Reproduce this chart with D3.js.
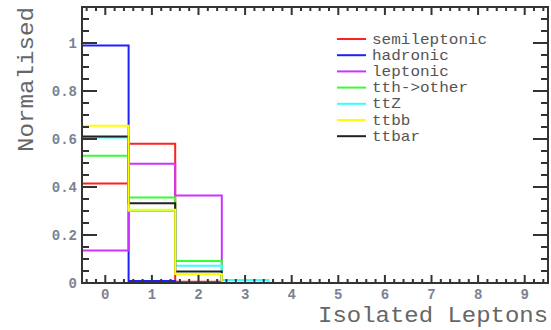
<!DOCTYPE html>
<html>
<head>
<meta charset="utf-8">
<script src="https://cdn.jsdelivr.net/npm/d3@7"></script>
<style>
  body { margin: 0; background: #fff; }
  svg { display: block; }
  text { font-family: "Liberation Mono", "DejaVu Sans Mono", monospace; }
</style>
</head>
<body>
<svg id="chart" width="551" height="330"></svg>
<script>
// bin centres (number of isolated leptons)
var bins = [0, 1, 2, 3, 4, 5, 6, 7, 8, 9];

// normalised content per bin
var semileptonic = [0.415, 0.58, 0.005, 0, 0, 0, 0, 0, 0, 0];
var hadronic     = [0.99, 0.008, 0, 0, 0, 0, 0, 0, 0, 0];
var leptonic     = [0.135, 0.497, 0.365, 0, 0, 0, 0, 0, 0, 0];
var tthOther     = [0.53, 0.356, 0.092, 0, 0, 0, 0, 0, 0, 0];
var ttZ          = [0.606, 0.30, 0.072, 0.012, 0, 0, 0, 0, 0, 0];
var ttbb         = [0.655, 0.305, 0.037, 0, 0, 0, 0, 0, 0, 0];
var ttbar        = [0.61, 0.332, 0.048, 0, 0, 0, 0, 0, 0, 0];

var seriesNames  = ["semileptonic", "hadronic", "leptonic", "tth->other", "ttZ", "ttbb", "ttbar"];
var seriesValues = [semileptonic, hadronic, leptonic, tthOther, ttZ, ttbb, ttbar];
var seriesColors = ["#ff2020", "#2020ff", "#cc33ff", "#33ff33", "#33ffff", "#ffff00", "#222222"];
// ttbb ends up on top in the picture
var drawOrder = [0, 1, 2, 3, 4, 6, 5];

var yTickLabels = ["0", "0.2", "0.4", "0.6", "0.8", "1"];

var svg = d3.select("#chart");
var frameL = 82, frameR = 548, frameT = 7, frameB = 283;

var x = d3.scaleLinear().domain([-0.5, 9.5]).range([frameL, frameR]);
var y = d3.scaleLinear().domain([0, 1.15]).range([frameB, frameT]);

// histograms
var line = d3.line().x(function(d) { return x(d[0]); }).y(function(d) { return y(d[1]); });
drawOrder.forEach(function(k) {
  var vals = seriesValues[k];
  var pts = [];
  bins.forEach(function(b, i) {
    pts.push([b - 0.5, vals[i]]);
    pts.push([b + 0.5, vals[i]]);
  });
  svg.append("path")
    .attr("d", line(pts))
    .attr("fill", "none")
    .attr("stroke", seriesColors[k])
    .attr("stroke-width", 2);
});

// frame
var axisCol = "#333";
svg.append("rect")
  .attr("x", frameL).attr("y", frameT)
  .attr("width", frameR - frameL).attr("height", frameB - frameT)
  .attr("fill", "none").attr("stroke", axisCol).attr("stroke-width", 2);

// x ticks (bottom up, top down)
var xMinor = d3.range(-0.4, 9.5, 0.2).map(function(v) { return Math.round(v * 10) / 10; });
var g = svg.append("g").attr("stroke", axisCol).attr("stroke-width", 2);
xMinor.forEach(function(v) {
  var major = Math.abs(v - Math.round(v)) < 1e-6;
  var len = major ? 8 : 4;
  g.append("line").attr("x1", x(v)).attr("x2", x(v)).attr("y1", frameB).attr("y2", frameB - len);
  g.append("line").attr("x1", x(v)).attr("x2", x(v)).attr("y1", frameT).attr("y2", frameT + len);
});

// y ticks (left rightwards, right leftwards)
var yMinor = d3.range(0, 1.151, 0.05).map(function(v) { return Math.round(v * 100) / 100; });
yMinor.forEach(function(v) {
  var major = Math.abs(v * 5 - Math.round(v * 5)) < 1e-6;
  var len = major ? 15 : 7;
  g.append("line").attr("x1", frameL).attr("x2", frameL + len).attr("y1", y(v)).attr("y2", y(v));
  g.append("line").attr("x1", frameR).attr("x2", frameR - len).attr("y1", y(v)).attr("y2", y(v));
});

// tick labels
var labCol = "#7c8294";
yTickLabels.forEach(function(t, i) {
  svg.append("text")
    .attr("x", 77).attr("y", y(i * 0.2) + 5)
    .attr("text-anchor", "end")
    .attr("font-size", 14).attr("font-weight", "bold")
    .attr("fill", labCol)
    .text(t);
});
bins.forEach(function(b) {
  svg.append("text")
    .attr("x", x(b)).attr("y", 298.5)
    .attr("text-anchor", "middle")
    .attr("font-size", 14).attr("font-weight", "bold")
    .attr("fill", labCol)
    .text(b);
});

// axis titles
var titleCol = "#666";
svg.append("text")
  .attr("x", 548).attr("y", 322)
  .attr("text-anchor", "end")
  .attr("font-size", 22)
  .attr("textLength", 230).attr("lengthAdjust", "spacingAndGlyphs")
  .attr("fill", titleCol)
  .text("Isolated Leptons");
svg.append("text")
  .attr("transform", "translate(33,7) rotate(-90)")
  .attr("text-anchor", "end")
  .attr("font-size", 22)
  .attr("textLength", 145).attr("lengthAdjust", "spacingAndGlyphs")
  .attr("fill", titleCol)
  .text("Normalised");

// legend
var leg = svg.append("g");
seriesNames.forEach(function(n, i) {
  var yy = 39 + i * 16.2;
  leg.append("line")
    .attr("x1", 337).attr("x2", 366).attr("y1", yy).attr("y2", yy)
    .attr("stroke", seriesColors[i]).attr("stroke-width", 2);
  leg.append("text")
    .attr("x", 372).attr("y", yy + 4.5)
    .attr("font-size", 15)
    .attr("textLength", n.length * 9.6).attr("lengthAdjust", "spacingAndGlyphs")
    .attr("fill", "#555")
    .text(n);
});
</script>
</body>
</html>
